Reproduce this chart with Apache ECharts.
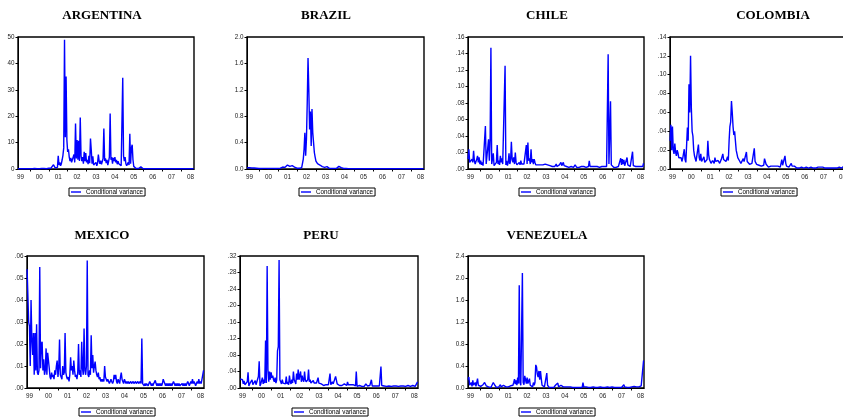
<!DOCTYPE html>
<html>
<head>
<meta charset="utf-8">
<script src="https://cdn.jsdelivr.net/npm/echarts@6/dist/echarts.min.js"></script>
<style>
html,body{margin:0;padding:0;background:#fff;}
#chart{width:843px;height:417px;}
</style>
</head>
<body>
<div id="chart"></div>
<script>
// ---------- DATA (half-monthly readings, Nov 1998 .. Mar 2008) ----------
const START = 1998.875;      // x of first observation
const STEP = 1 / 24;         // half-month
const yearTicks = [1999, 2000, 2001, 2002, 2003, 2004, 2005, 2006, 2007, 2008];
const yearLabels = ['99', '00', '01', '02', '03', '04', '05', '06', '07', '08'];
const legendName = 'Conditional variance';

const argentina = [
  0.1,0.1,0.1,
  0.1,0.2,0.1,0.1,0.2,0.1,0.1,0.1, 0.2,0.1,0.1,0.1,0.1,0.2,0.1,0.1, 0.1,0.1,0.2,0.1,0.1,0.1,0.1,0.1,
  0.1,0.1,0.1,0.2,0.2,0.3,0.2,0.6, 0.2,0.1,0.2,0.2,0.3,0.2,0.3,0.4, 0.3,0.8,1.6,0.9,0.5,0.8,0.4,0.6,
  5.0,1.5,2.5,1.2,2.0,3.5,5.2,8.0, 49,12,35,11,6.5,7.5,4.5,3.0, 4.2,2.5,3.0,1.8,5.5,2.5,17.2,4.0,
  11,3.5,10.7,3.0,19.5,5.0,3.0,4.5, 2.0,6.5,3.0,6.0,2.5,3.5,1.8,5.0, 2.2,11.5,7.2,2.0,4.8,1.5,2.2,1.0,
  2.5,1.2,2.2,5.5,3.0,2.0,3.2,1.8, 2.8,4.0,15.3,3.0,4.0,2.2,3.5,1.5, 2.8,4.5,21.0,3.5,4.5,2.0,4.2,3.0,
  4.5,2.5,3.5,1.8,3.0,2.0,1.5,2.5, 1.2,1.0,34.6,5.0,3.0,4.5,2.0,1.2, 0.8,2.5,1.5,13.3,2.0,8.0,9.2,3.5,
  1.0,0.5,0.3,0.2,0.1,0.1,0.2,0.1, 0.3,0.8,0.2,0.1,0.1,0.1,0.1,0.1, 0.1,0.1,0.1,0.1,0.1,0.1,0.1,0.1,
  0.1,0.05,0.1,0.1,0.05,0.1,0.1,0.05, 0.1,0.1,0.05,0.1,0.1,0.05,0.1,0.1, 0.05,0.1,0.1,0.05,0.1,0.1,0.05,0.1,
  0.1,0.05,0.1,0.1,0.05,0.1,0.1,0.05, 0.1,0.1,0.05,0.1,0.1,0.05,0.1,0.1, 0.05,0.1,0.1,0.05,0.1,0.1,0.05,0.1,
  0.1,0.05,0.1,0.1,0.1
];

const brazil = [
  0.02,0.03,0.02,
  0.02,0.03,0.02,0.015,0.02,0.01,0.015,0.01, 0.01,0.012,0.01,0.01,0.008,0.01,0.01,0.008, 0.01,0.008,0.01,0.008,0.01,0.01,0.008,0.01,
  0.008,0.01,0.008,0.01,0.008,0.012,0.01,0.008, 0.01,0.008,0.01,0.012,0.01,0.015,0.01,0.012, 0.02,0.015,0.03,0.02,0.04,0.025,0.05,0.03,
  0.06,0.03,0.05,0.04,0.06,0.035,0.05,0.07, 0.04,0.03,0.02,0.015,0.012,0.01,0.01,0.012, 0.01,0.015,0.02,0.05,0.15,0.3,0.55,0.2,
  0.45,1.0,1.68,1.2,0.6,0.87,0.35,0.91, 0.55,0.4,0.25,0.18,0.12,0.1,0.08,0.06, 0.05,0.06,0.04,0.05,0.035,0.03,0.03,0.025,
  0.03,0.02,0.035,0.02,0.015,0.01,0.012,0.01, 0.008,0.01,0.008,0.01,0.01,0.012,0.01,0.015, 0.02,0.04,0.03,0.035,0.02,0.015,0.01,0.008,
  0.008,0.006,0.008,0.005,0.006,0.005,0.004,0.005, 0.004,0.005,0.004,0.004,0.005,0.004,0.004,0.004, 0.005,0.004,0.004,0.004,0.004,0.004,0.02,0.004,
  0.004,0.004,0.005,0.004,0.003,0.004,0.003,0.004, 0.003,0.004,0.003,0.003,0.004,0.003,0.003,0.004, 0.003,0.003,0.004,0.003,0.003,0.003,0.004,0.003,
  0.003,0.003,0.004,0.003,0.003,0.003,0.004,0.003, 0.003,0.004,0.003,0.003,0.003,0.004,0.003,0.003, 0.003,0.004,0.003,0.003,0.003,0.003,0.004,0.003,
  0.003,0.003,0.004,0.003,0.003,0.003,0.004,0.003, 0.003,0.004,0.003,0.003,0.003,0.004,0.003,0.003, 0.003,0.004,0.003,0.003,0.003,0.003,0.004,0.003,
  0.003,0.004,0.003,0.003,0.004
];

const chile = [
  0.012,0.024,0.008,
  0.01,0.006,0.012,0.008,0.022,0.01,0.006,0.008, 0.012,0.016,0.008,0.014,0.006,0.01,0.005,0.008, 0.004,0.006,0.005,0.052,0.006,0.008,0.005,0.036,
  0.01,0.035,0.147,0.006,0.008,0.019,0.004,0.006, 0.005,0.008,0.029,0.006,0.01,0.005,0.016,0.008, 0.013,0.006,0.008,0.006,0.125,0.005,0.01,0.004,
  0.008,0.019,0.006,0.01,0.033,0.012,0.008,0.014, 0.006,0.02,0.008,0.005,0.004,0.006,0.008,0.005, 0.01,0.006,0.004,0.005,0.006,0.008,0.005,0.029,
  0.006,0.032,0.01,0.013,0.006,0.024,0.008,0.012, 0.006,0.012,0.008,0.005,0.004,0.006,0.005,0.004, 0.003,0.005,0.004,0.003,0.005,0.004,0.003,0.006,
  0.004,0.008,0.005,0.003,0.006,0.004,0.003,0.005, 0.003,0.004,0.005,0.003,0.004,0.006,0.003,0.004, 0.003,0.005,0.003,0.008,0.004,0.003,0.008,0.004,
  0.003,0.004,0.003,0.002,0.003,0.002,0.003,0.002, 0.003,0.002,0.003,0.002,0.002,0.005,0.003,0.002, 0.003,0.002,0.002,0.003,0.002,0.003,0.002,0.002,
  0.003,0.002,0.003,0.002,0.003,0.002,0.003,0.01, 0.003,0.002,0.002,0.003,0.002,0.002,0.003,0.002, 0.002,0.003,0.002,0.003,0.002,0.002,0.004,0.003,
  0.003,0.002,0.003,0.003,0.002,0.003,0.002,0.139, 0.006,0.004,0.082,0.005,0.006,0.003,0.002,0.003, 0.002,0.002,0.003,0.002,0.003,0.002,0.003,0.013,
  0.005,0.012,0.006,0.011,0.004,0.006,0.003,0.014, 0.005,0.004,0.006,0.003,0.004,0.005,0.021,0.004, 0.003,0.005,0.003,0.004,0.005,0.003,0.004,0.005,
  0.003,0.004,0.005,0.003,0.007
];

const colombia = [
  0.03,0.047,0.02,
  0.045,0.02,0.016,0.027,0.018,0.014,0.02,0.017, 0.012,0.013,0.01,0.012,0.008,0.011,0.009,0.021, 0.01,0.007,0.009,0.044,0.03,0.09,0.06,0.12,
  0.065,0.04,0.035,0.02,0.014,0.012,0.008,0.01, 0.006,0.026,0.012,0.009,0.016,0.008,0.007,0.01, 0.013,0.007,0.008,0.006,0.01,0.03,0.015,0.01,
  0.008,0.006,0.005,0.009,0.007,0.006,0.012,0.008, 0.007,0.006,0.009,0.008,0.006,0.007,0.01,0.008, 0.016,0.01,0.009,0.012,0.008,0.01,0.013,0.009,
  0.03,0.045,0.05,0.072,0.06,0.045,0.036,0.04, 0.03,0.02,0.016,0.012,0.01,0.009,0.007,0.006, 0.008,0.007,0.011,0.008,0.006,0.008,0.018,0.008,
  0.007,0.006,0.005,0.006,0.005,0.006,0.005,0.008, 0.022,0.008,0.006,0.005,0.004,0.005,0.004,0.005, 0.004,0.003,0.004,0.003,0.004,0.011,0.008,0.005,
  0.004,0.003,0.002,0.003,0.002,0.003,0.002,0.002, 0.003,0.002,0.002,0.003,0.002,0.002,0.003,0.002, 0.003,0.002,0.003,0.01,0.004,0.005,0.004,0.014,
  0.006,0.003,0.002,0.003,0.002,0.003,0.002,0.006, 0.003,0.002,0.002,0.003,0.002,0.002,0.001,0.002, 0.002,0.001,0.002,0.001,0.002,0.001,0.002,0.001,
  0.002,0.001,0.002,0.003,0.002,0.001,0.002,0.001, 0.002,0.003,0.002,0.001,0.002,0.001,0.001,0.002, 0.001,0.002,0.001,0.001,0.002,0.001,0.001,0.002,
  0.001,0.002,0.001,0.001,0.002,0.001,0.001,0.002, 0.001,0.001,0.002,0.001,0.002,0.001,0.001,0.002, 0.001,0.001,0.002,0.001,0.002,0.001,0.002,0.001,
  0.002,0.002,0.003,0.002,0.002
];

const mexico = [
  0.054,0.054,0.03,
  0.028,0.01,0.04,0.022,0.015,0.025,0.006,0.025, 0.008,0.029,0.007,0.006,0.008,0.055,0.009,0.02, 0.021,0.008,0.013,0.006,0.008,0.018,0.006,0.016,
  0.016,0.009,0.005,0.004,0.007,0.005,0.006,0.004, 0.008,0.006,0.01,0.0125,0.005,0.009,0.022,0.006, 0.005,0.004,0.01,0.006,0.007,0.025,0.007,0.005,
  0.004,0.005,0.003,0.006,0.014,0.008,0.01,0.006, 0.0125,0.008,0.005,0.006,0.004,0.007,0.02,0.006, 0.008,0.005,0.021,0.009,0.006,0.027,0.008,0.006,
  0.01,0.058,0.006,0.005,0.008,0.006,0.024,0.009, 0.015,0.007,0.01,0.012,0.008,0.006,0.005,0.007, 0.004,0.005,0.003,0.004,0.003,0.004,0.003,0.01,
  0.005,0.004,0.003,0.004,0.003,0.002,0.003,0.004, 0.003,0.002,0.003,0.006,0.004,0.006,0.003,0.002, 0.004,0.003,0.002,0.005,0.007,0.004,0.003,0.002,
  0.004,0.003,0.002,0.003,0.002,0.003,0.002,0.002, 0.003,0.002,0.002,0.003,0.002,0.002,0.003,0.002, 0.002,0.003,0.002,0.002,0.003,0.002,0.0225,0.002,
  0.002,0.001,0.002,0.001,0.002,0.002,0.001,0.002, 0.003,0.002,0.001,0.002,0.001,0.002,0.002,0.0035, 0.002,0.001,0.002,0.001,0.002,0.001,0.002,0.001,
  0.002,0.004,0.003,0.002,0.001,0.002,0.001,0.002, 0.001,0.002,0.001,0.002,0.001,0.002,0.003,0.002, 0.001,0.002,0.001,0.002,0.001,0.002,0.001,0.001,
  0.001,0.002,0.001,0.002,0.001,0.002,0.001,0.002, 0.003,0.002,0.001,0.002,0.003,0.002,0.004,0.002, 0.003,0.002,0.001,0.002,0.003,0.002,0.004,0.002,
  0.003,0.002,0.002,0.002,0.008
];

const peru = [
  0.022,0.024,0.018,
  0.02,0.01,0.017,0.008,0.012,0.006,0.015,0.038, 0.005,0.01,0.006,0.012,0.02,0.008,0.012,0.005, 0.018,0.008,0.006,0.01,0.028,0.065,0.005,0.01,
  0.008,0.025,0.01,0.02,0.012,0.115,0.012,0.296, 0.045,0.015,0.04,0.02,0.038,0.025,0.03,0.02, 0.015,0.025,0.012,0.02,0.09,0.1,0.31,0.02,
  0.015,0.01,0.02,0.012,0.008,0.015,0.01,0.028, 0.01,0.015,0.008,0.03,0.015,0.01,0.02,0.012, 0.04,0.02,0.015,0.01,0.035,0.02,0.045,0.02,
  0.02,0.04,0.015,0.03,0.02,0.015,0.04,0.02, 0.015,0.012,0.02,0.045,0.015,0.02,0.012,0.015, 0.01,0.018,0.012,0.015,0.01,0.012,0.008,0.025,
  0.012,0.01,0.008,0.01,0.006,0.008,0.006,0.01, 0.005,0.008,0.006,0.012,0.008,0.01,0.035,0.008, 0.006,0.015,0.01,0.012,0.008,0.028,0.03,0.01,
  0.012,0.008,0.006,0.008,0.01,0.006,0.008,0.006, 0.01,0.008,0.012,0.006,0.015,0.008,0.01,0.006, 0.008,0.005,0.006,0.008,0.004,0.006,0.005,0.04,
  0.004,0.005,0.003,0.006,0.004,0.005,0.004,0.006, 0.005,0.004,0.008,0.01,0.006,0.005,0.008,0.006, 0.006,0.008,0.02,0.005,0.004,0.006,0.005,0.004,
  0.006,0.005,0.004,0.006,0.005,0.004,0.052,0.006, 0.005,0.004,0.005,0.004,0.006,0.004,0.005,0.004, 0.005,0.004,0.006,0.004,0.005,0.004,0.005,0.004,
  0.004,0.005,0.004,0.006,0.004,0.005,0.004,0.005, 0.006,0.004,0.005,0.004,0.005,0.004,0.005,0.004, 0.006,0.004,0.005,0.004,0.005,0.004,0.006,0.005,
  0.005,0.004,0.006,0.005,0.015
];

const venezuela = [
  0.15,0.2,0.05,
  0.05,0.1,0.03,0.14,0.05,0.02,0.1,0.03, 0.06,0.17,0.05,0.02,0.08,0.03,0.05,0.02, 0.06,0.03,0.1,0.13,0.04,0.02,0.03,0.02,
  0.03,0.02,0.01,0.02,0.03,0.1,0.07,0.05, 0.02,0.01,0.02,0.03,0.02,0.03,0.06,0.02, 0.01,0.02,0.05,0.02,0.08,0.02,0.01,0.02,
  0.02,0.03,0.02,0.04,0.07,0.02,0.05,0.1, 0.16,0.07,0.14,0.05,0.19,0.08,1.87,0.1, 0.05,0.08,2.09,0.1,0.06,0.22,0.15,0.08,
  0.19,0.08,0.05,0.17,0.05,0.03,0.04,0.02, 0.1,0.05,0.1,0.42,0.38,0.25,0.2,0.31, 0.15,0.31,0.17,0.05,0.04,0.03,0.02,0.03,
  0.05,0.27,0.05,0.02,0.01,0.01,0.02,0.01, 0.02,0.03,0.01,0.02,0.05,0.03,0.02,0.09, 0.02,0.01,0.03,0.05,0.02,0.07,0.02,0.01,
  0.01,0.02,0.01,0.01,0.02,0.01,0.01,0.02, 0.01,0.01,0.01,0.02,0.01,0.01,0.02,0.01, 0.01,0.02,0.01,0.01,0.01,0.02,0.01,0.1,
  0.02,0.01,0.01,0.02,0.01,0.01,0.01,0.02, 0.01,0.01,0.01,0.01,0.02,0.01,0.01,0.01, 0.02,0.01,0.01,0.01,0.01,0.02,0.01,0.01,
  0.01,0.02,0.01,0.01,0.01,0.01,0.02,0.01, 0.03,0.01,0.01,0.01,0.02,0.01,0.01,0.01, 0.01,0.02,0.01,0.01,0.01,0.01,0.02,0.01,
  0.01,0.01,0.02,0.06,0.02,0.01,0.02,0.01, 0.01,0.02,0.01,0.01,0.04,0.02,0.01,0.02, 0.03,0.01,0.05,0.02,0.04,0.05,0.02,0.05,
  0.03,0.04,0.02,0.03,0.5
];

// ---------- LAYOUT ----------
const XMIN = 1998.87, XMAX = 2008.19;
const panels = [
  { title: 'ARGENTINA', values: argentina, yMax: 50,   yStep: 10,   fmt: 'int', left: 18,  top: 37,  width: 176, titleX: 102, titleY: 15.5, legTop: 188 },
  { title: 'BRAZIL',    values: brazil,    yMax: 2.0,  yStep: 0.4,  fmt: 'one', left: 247, top: 37,  width: 177, titleX: 326, titleY: 15.5, legTop: 188 },
  { title: 'CHILE',     values: chile,     yMax: 0.16, yStep: 0.02, fmt: 'two', left: 468, top: 37,  width: 176, titleX: 547, titleY: 15.5, legTop: 188 },
  { title: 'COLOMBIA',  values: colombia,  yMax: 0.14, yStep: 0.02, fmt: 'two', left: 670, top: 37,  width: 176, titleX: 773, titleY: 15.5, legTop: 188 },
  { title: 'MEXICO',    values: mexico,    yMax: 0.06, yStep: 0.01, fmt: 'two', left: 27,  top: 256, width: 177, titleX: 102, titleY: 236, legTop: 408 },
  { title: 'PERU',      values: peru,      yMax: 0.32, yStep: 0.04, fmt: 'two', left: 240, top: 256, width: 178, titleX: 321, titleY: 236, legTop: 408 },
  { title: 'VENEZUELA', values: venezuela, yMax: 2.4,  yStep: 0.4,  fmt: 'one', left: 468, top: 256, width: 176, titleX: 547, titleY: 236, legTop: 408 }
];
const PLOT_H = 132;
const BLUE = '#0000ff';
const SANS = '"Liberation Sans", Arial, sans-serif';

function fmtY(kind) {
  return function (v) {
    if (kind === 'int') return String(Math.round(v));
    if (kind === 'one') return v.toFixed(1);
    return v.toFixed(2).replace(/^0/, '');
  };
}

const grid = [], xAxis = [], yAxis = [], series = [], legend = [], graphic = [];
const midTicks = yearTicks.slice(0, -1).map(y => y + 0.5);

panels.forEach((p, k) => {
  grid.push({
    left: p.left, top: p.top, width: p.width, height: PLOT_H,
    show: true, borderColor: '#000', borderWidth: 1.4, containLabel: false,
    outerBoundsMode: 'none'
  });
  xAxis.push({
    type: 'value', gridIndex: k, min: XMIN, max: XMAX,
    axisLine: { show: true, onZero: false, lineStyle: { color: '#000', width: 1 } },
    axisTick: { show: true, length: 2.5, customValues: midTicks, lineStyle: { color: '#000', width: 1 } },
    axisLabel: {
      show: true, customValues: yearTicks, margin: 5, fontSize: 6.3, color: '#222', fontFamily: SANS,
      hideOverlap: false,
      formatter: v => yearLabels[yearTicks.indexOf(Math.round(v))] || ''
    },
    splitLine: { show: false }
  });
  yAxis.push({
    type: 'value', gridIndex: k, min: 0, max: p.yMax, interval: p.yStep,
    axisLine: { show: true, lineStyle: { color: '#000', width: 1 } },
    axisTick: { show: true, length: 2.5, lineStyle: { color: '#000', width: 1 } },
    axisLabel: { margin: 3.5, fontSize: 6.3, color: '#222', fontFamily: SANS, formatter: fmtY(p.fmt) },
    splitLine: { show: false }
  });
  series.push({
    type: 'line', name: legendName, xAxisIndex: k, yAxisIndex: k,
    data: p.values.map((v, i) => [START + i * STEP, v]),
    showSymbol: false, symbol: 'none', sampling: 'none',
    lineStyle: { color: BLUE, width: 1.4 }, itemStyle: { color: BLUE },
    animation: false, silent: true, clip: true
  });
  const cx = p.left + p.width / 2;
  legend.push({
    left: Math.round(cx - 37), top: p.legTop,
    data: [legendName], icon: 'rect', itemWidth: 10, itemHeight: 1.4, itemGap: 0,
    borderColor: '#000', borderWidth: 1, borderRadius: 0, padding: [1, 2, 1, 2],
    selectedMode: false,
    textStyle: { fontSize: 6.3, color: '#000', fontFamily: SANS }
  });
  graphic.push({
    type: 'text', x: p.titleX, y: p.titleY, silent: true,
    style: {
      text: p.title, align: 'center', verticalAlign: 'middle',
      font: 'bold 13px "Liberation Serif", "Times New Roman", serif', fill: '#000'
    }
  });
});

const chart = echarts.init(document.getElementById('chart'), null, { renderer: 'canvas' });
chart.setOption({
  backgroundColor: '#fff',
  animation: false,
  grid, xAxis, yAxis, series, legend, graphic
});
</script>
</body>
</html>
